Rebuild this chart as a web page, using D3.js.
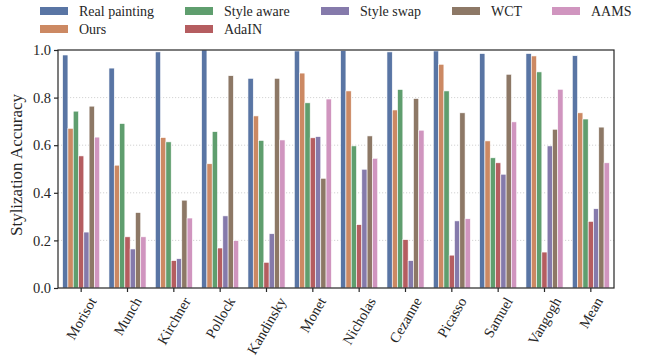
<!DOCTYPE html>
<html>
<head>
<meta charset="utf-8">
<script src="https://cdn.jsdelivr.net/npm/d3@7/dist/d3.min.js"></script>
<style>
  html, body { margin: 0; padding: 0; background: #fff; }
  svg { display: block; font-family: "Liberation Serif", "DejaVu Serif", serif; }
  svg text { font-family: "Liberation Serif", "DejaVu Serif", serif !important; fill: #262626; }
</style>
</head>
<body>
<svg id="chart" width="646" height="358"></svg>
<script>
// Stylization accuracy per artist, one series per method
const categories = ["Morisot", "Munch", "Kirchner", "Pollock", "Kandinsky", "Monet",
  "Nicholas", "Cezanne", "Picasso", "Samuel", "Vangogh", "Mean"];
const seriesNames = ["Real painting", "Ours", "Style aware", "AdaIN", "Style swap", "WCT", "AAMS"];
const realPainting = [0.979, 0.924, 0.992, 1.000, 0.881, 0.996, 0.997, 0.992, 0.996, 0.985, 0.985, 0.976];
const ours         = [0.671, 0.516, 0.632, 0.522, 0.723, 0.903, 0.828, 0.748, 0.940, 0.618, 0.975, 0.736];
const styleAware   = [0.743, 0.691, 0.614, 0.657, 0.620, 0.778, 0.597, 0.834, 0.828, 0.547, 0.908, 0.710];
const adaIN        = [0.555, 0.215, 0.115, 0.168, 0.108, 0.631, 0.266, 0.203, 0.138, 0.526, 0.151, 0.280];
const styleSwap    = [0.235, 0.164, 0.123, 0.303, 0.228, 0.636, 0.499, 0.115, 0.282, 0.478, 0.597, 0.333];
const wct          = [0.764, 0.317, 0.369, 0.892, 0.881, 0.461, 0.639, 0.796, 0.736, 0.898, 0.667, 0.676];
const aams         = [0.634, 0.215, 0.294, 0.199, 0.622, 0.794, 0.545, 0.663, 0.291, 0.698, 0.835, 0.526];
const seriesValues = [realPainting, ours, styleAware, adaIN, styleSwap, wct, aams];
const yTicks = [0.0, 0.2, 0.4, 0.6, 0.8, 1.0];
const baseColors = ["#4C72B0", "#DD8452", "#55A868", "#C44E52", "#8172B3", "#937860", "#DA8BC3"];

// bars use the palette slightly desaturated
const colors = baseColors.map(c => { const h = d3.hsl(c); h.s *= 0.75; return h.formatHex(); });

const FONT = '"Liberation Serif", "DejaVu Serif", serif';
const svg = d3.select("#chart");
const plot = { left: 58, right: 614, top: 50, bottom: 288 };

const x = d3.scaleBand().domain(categories).range([plot.left, plot.right]).paddingInner(0).paddingOuter(0);
const inner = d3.scaleBand().domain(seriesNames).range([0, x.bandwidth() * 0.8]).padding(0);
const y = d3.scaleLinear().domain([0, 1]).range([plot.bottom, plot.top]);

// dotted horizontal grid
svg.append("g")
  .selectAll("line")
  .data(yTicks.filter(t => t > 0 && t < 1))
  .join("line")
  .attr("x1", plot.left).attr("x2", plot.right)
  .attr("y1", d => y(d)).attr("y2", d => y(d))
  .attr("stroke", "#c8c8c8").attr("stroke-width", 0.8)
  .attr("stroke-dasharray", "1.2,1.8");

// bars
const groups = svg.append("g")
  .selectAll("g")
  .data(seriesNames.map((name, i) => ({ name, i, values: seriesValues[i] })))
  .join("g")
  .attr("fill", d => colors[d.i]);

groups.selectAll("rect")
  .data(d => d.values.map((v, j) => ({ name: d.name, cat: categories[j], v })))
  .join("rect")
  .attr("x", d => x(d.cat) + x.bandwidth() * 0.1 + inner(d.name))
  .attr("width", inner.bandwidth())
  .attr("y", d => y(d.v))
  .attr("height", d => y(0) - y(d.v))
  .attr("stroke", "#ffffff")
  .attr("stroke-width", 0.6);

// frame
svg.append("rect")
  .attr("x", plot.left).attr("y", plot.top)
  .attr("width", plot.right - plot.left).attr("height", plot.bottom - plot.top)
  .attr("fill", "none").attr("stroke", "#262626").attr("stroke-width", 1.2);

// y axis
const yAxis = svg.append("g")
  .attr("transform", `translate(${plot.left},0)`)
  .call(d3.axisLeft(y).tickValues(yTicks).tickFormat(d3.format(".1f")).tickSize(4).tickPadding(3));
yAxis.attr("font-family", null).attr("font-size", null);
yAxis.select(".domain").remove();
yAxis.selectAll(".tick line").attr("stroke", "#262626").attr("stroke-width", 1.2);
yAxis.selectAll("text").style("font-size", "14.5px").style("font-family", FONT).attr("fill", "#262626");

// x axis
const xAxis = svg.append("g")
  .attr("transform", `translate(0,${plot.bottom})`)
  .call(d3.axisBottom(x).tickSize(4).tickFormat(""));
xAxis.attr("font-family", null).attr("font-size", null);
xAxis.select(".domain").remove();
xAxis.selectAll(".tick line").attr("stroke", "#262626").attr("stroke-width", 1.2);

// rotated category labels, bounding box centred under each tick
const ang = 60 * Math.PI / 180;
const labelTop = plot.bottom + 8;
svg.append("g")
  .selectAll("text")
  .data(categories)
  .join("text")
  .text(d => d)
  .style("font-family", FONT)
  .style("font-size", "14.5px")
  .attr("text-anchor", "middle")
  .attr("dominant-baseline", "central")
  .each(function(d) {
    const L = this.getComputedTextLength();
    const h = 10;
    const bh = L * Math.sin(ang) + h * Math.cos(ang);
    const cx = x(d) + x.bandwidth() / 2;
    const cy = labelTop + bh / 2;
    d3.select(this).attr("transform", `translate(${cx},${cy}) rotate(-60)`);
  });

// y axis title
svg.append("text")
  .attr("transform", `translate(22,${(plot.top + plot.bottom) / 2 - 4}) rotate(-90)`)
  .attr("text-anchor", "middle")
  .style("font-family", FONT)
  .style("font-size", "17px")
  .text("Stylization Accuracy");

// legend: two rows, five columns
const legendPos = [
  { x: 40, y: 11 }, { x: 40, y: 29 }, { x: 185, y: 11 }, { x: 185, y: 29 },
  { x: 321, y: 11 }, { x: 452, y: 11 }, { x: 552, y: 11 }
];
const legend = svg.append("g")
  .selectAll("g")
  .data(seriesNames)
  .join("g")
  .attr("transform", (d, i) => `translate(${legendPos[i].x},${legendPos[i].y})`);
legend.append("rect")
  .attr("x", 0).attr("y", -4).attr("width", 28).attr("height", 8)
  .attr("fill", (d, i) => colors[i]);
legend.append("text")
  .attr("x", 39).attr("y", 0)
  .attr("dominant-baseline", "central")
  .style("font-family", FONT)
  .style("font-size", "14px")
  .text(d => d);
</script>
</body>
</html>
